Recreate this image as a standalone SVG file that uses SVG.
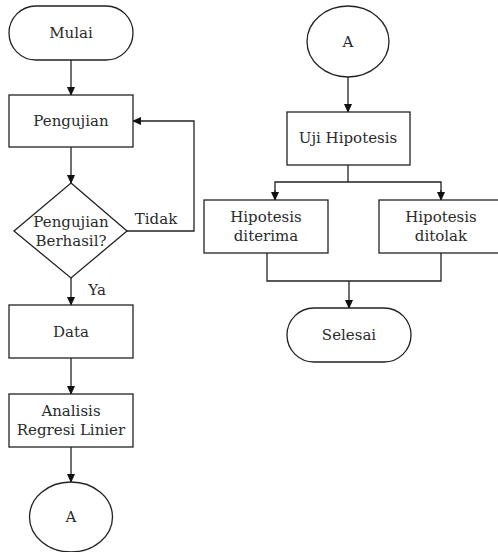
<svg xmlns="http://www.w3.org/2000/svg" width="498" height="552" viewBox="0 0 498 552">
<style>
.s{fill:#fff;stroke:#222;stroke-width:1.3}
.c{fill:none;stroke:#222;stroke-width:1.3}
.t{font-family:'DejaVu Serif','Liberation Serif',serif;font-size:15px;fill:#2a2a2a;text-anchor:middle;dominant-baseline:central}
</style>
<defs>
<marker id="ah" markerWidth="10" markerHeight="10" refX="8" refY="5" orient="auto" markerUnits="userSpaceOnUse">
<path d="M0,1 L9,5 L0,9 Z" fill="#111"/>
</marker>
</defs>
<g id="connectors">
<line class="c" x1="71" y1="60" x2="71" y2="95" marker-end="url(#ah)"/>
<line class="c" x1="71" y1="147" x2="71" y2="183" marker-end="url(#ah)"/>
<polyline class="c" points="127,231 194,231 194,121 133,121" marker-end="url(#ah)"/>
<line class="c" x1="71" y1="278" x2="71" y2="305" marker-end="url(#ah)"/>
<line class="c" x1="71" y1="358" x2="71" y2="394" marker-end="url(#ah)"/>
<line class="c" x1="71" y1="447" x2="71" y2="482" marker-end="url(#ah)"/>
<line class="c" x1="348" y1="77" x2="348" y2="112" marker-end="url(#ah)"/>
<line class="c" x1="348" y1="165" x2="348" y2="182"/>
<polyline class="c" points="275,200 275,182 441,182 441,200"/>
<line class="c" x1="275" y1="190" x2="275" y2="200" marker-end="url(#ah)"/>
<line class="c" x1="441" y1="190" x2="441" y2="200" marker-end="url(#ah)"/>
<polyline class="c" points="267,253 267,281 441,281 441,253"/>
<line class="c" x1="349" y1="281" x2="349" y2="308" marker-end="url(#ah)"/>
<text class="t" x="156" y="219">Tidak</text>
<text class="t" x="97" y="290">Ya</text>
</g>
<g id="mulai">
<rect class="s" x="9" y="6" width="124" height="54" rx="27"/>
<text class="t" x="71" y="33">Mulai</text>
</g>
<g id="pengujian">
<rect class="s" x="9" y="95" width="124" height="52"/>
<text class="t" x="71" y="121">Pengujian</text>
</g>
<g id="keputusan">
<polygon class="s" points="71,183 127,231 71,278 14,231"/>
<text class="t" x="71" y="222">Pengujian</text>
<text class="t" x="71" y="241">Berhasil?</text>
</g>
<g id="data">
<rect class="s" x="9" y="305" width="124" height="53"/>
<text class="t" x="71" y="332">Data</text>
</g>
<g id="analisis">
<rect class="s" x="9" y="394" width="124" height="53"/>
<text class="t" x="71" y="411">Analisis</text>
<text class="t" x="71" y="430">Regresi Linier</text>
</g>
<g id="konektor-a1">
<ellipse class="s" cx="71" cy="517" rx="41.5" ry="35"/>
<text class="t" x="71" y="517">A</text>
</g>
<g id="konektor-a2">
<ellipse class="s" cx="348" cy="41.5" rx="41" ry="35.5"/>
<text class="t" x="348" y="41.5">A</text>
</g>
<g id="uji">
<rect class="s" x="287" y="112" width="123" height="53"/>
<text class="t" x="348" y="138">Uji Hipotesis</text>
</g>
<g id="diterima">
<rect class="s" x="204" y="200" width="124" height="53"/>
<text class="t" x="266" y="217">Hipotesis</text>
<text class="t" x="266" y="236">diterima</text>
</g>
<g id="ditolak">
<rect class="s" x="379" y="200" width="124" height="53"/>
<text class="t" x="441" y="217">Hipotesis</text>
<text class="t" x="441" y="236">ditolak</text>
</g>
<g id="selesai">
<rect class="s" x="287" y="308" width="124" height="54" rx="27"/>
<text class="t" x="349" y="335">Selesai</text>
</g>
</svg>
